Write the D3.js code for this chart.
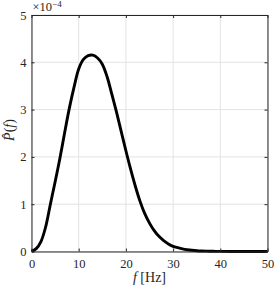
<!DOCTYPE html>
<html><head><meta charset="utf-8">
<script src="https://cdn.jsdelivr.net/npm/d3@7"></script>
<style>body{margin:0;background:#fff}</style>
</head><body><svg id="c" width="274" height="288"></svg>
<script>
const freq = [0,1,2,3,4,5,6,7,8,9,10,11,12,13,14,15,16,17,18,19,20,21,22,23,24,25,26,27,28,29,30,31,32,33,34,35,36,37,38,39,40,42,45,50];
const power = [0,0.06,0.21,0.52,1.0,1.47,1.96,2.5,3.02,3.47,3.86,4.06,4.14,4.15,4.09,3.96,3.7,3.33,2.95,2.54,2.13,1.74,1.38,1.06,0.8,0.6,0.44,0.32,0.23,0.16,0.11,0.08,0.055,0.038,0.026,0.017,0.011,0.007,0.005,0.003,0.002,0.001,0,0];
const xTicks = [0,10,20,30,40,50];
const yTicks = [0,1,2,3,4,5];

const svg = d3.select("#c");
const L=31.5,R=267.5,T=15,B=251.5;
const FONT="'Liberation Serif','DejaVu Serif',serif";
const x = d3.scaleLinear().domain([0,50]).range([L,R]);
const y = d3.scaleLinear().domain([0,5]).range([B,T]);
const g = svg.append("g");
g.selectAll(".gx").data(xTicks).enter().append("line").attr("x1",d=>x(d)).attr("x2",d=>x(d)).attr("y1",T).attr("y2",B).attr("stroke","#e3e3e3").attr("stroke-width",1);
g.selectAll(".gy").data(yTicks).enter().append("line").attr("y1",d=>y(d)).attr("y2",d=>y(d)).attr("x1",L).attr("x2",R).attr("stroke","#e3e3e3").attr("stroke-width",1);
g.append("path").datum(freq.map((f,i)=>[f,power[i]])).attr("d",d3.line().x(d=>x(d[0])).y(d=>y(Math.max(0,d[1]))).curve(d3.curveCatmullRom.alpha(0.5))).attr("fill","none").attr("stroke","#000").attr("stroke-width",2.9).attr("stroke-linejoin","round");
const fs=12.5;
const ax=svg.append("g").attr("transform",`translate(0,${B})`).call(d3.axisBottom(x).tickValues(xTicks).tickSizeInner(-3).tickSizeOuter(0).tickPadding(8).tickFormat(d3.format("d")));
const ay=svg.append("g").attr("transform",`translate(${L},0)`).call(d3.axisLeft(y).tickValues(yTicks).tickSizeInner(-3).tickSizeOuter(0).tickPadding(5).tickFormat(d3.format("d")));
const at=svg.append("g").attr("transform",`translate(0,${T})`).call(d3.axisTop(x).tickValues(xTicks).tickSizeInner(-3).tickSizeOuter(0).tickFormat(""));
const ar=svg.append("g").attr("transform",`translate(${R},0)`).call(d3.axisRight(y).tickValues(yTicks).tickSizeInner(-3).tickSizeOuter(0).tickFormat(""));
[ax,ay,at,ar].forEach(a=>{a.attr("font-size",null).attr("font-family",null);a.select(".domain").attr("stroke","#262626");a.selectAll(".tick line").attr("stroke","#262626");a.selectAll("text").attr("fill","#262626").style("font-size",fs+"px").style("font-family",FONT);});
svg.append("text").attr("x",L+1).attr("y",11).attr("fill","#262626").style("font-family",FONT).style("font-size","12.5px").html('×10<tspan dy="-4" style="font-size:9px">−4</tspan>');
svg.append("text").attr("x",(L+R)/2).attr("y",282).attr("text-anchor","middle").attr("fill","#262626").style("font-family",FONT).style("font-size","14px").html('<tspan font-style="italic">f</tspan>  [Hz]');
svg.append("text").attr("transform",`translate(14,130) rotate(-90)`).attr("text-anchor","middle").attr("fill","#262626").style("font-family",FONT).style("font-size","14px").html('<tspan font-style="italic">P̂</tspan>(<tspan font-style="italic">f</tspan>)');
</script></body></html>
